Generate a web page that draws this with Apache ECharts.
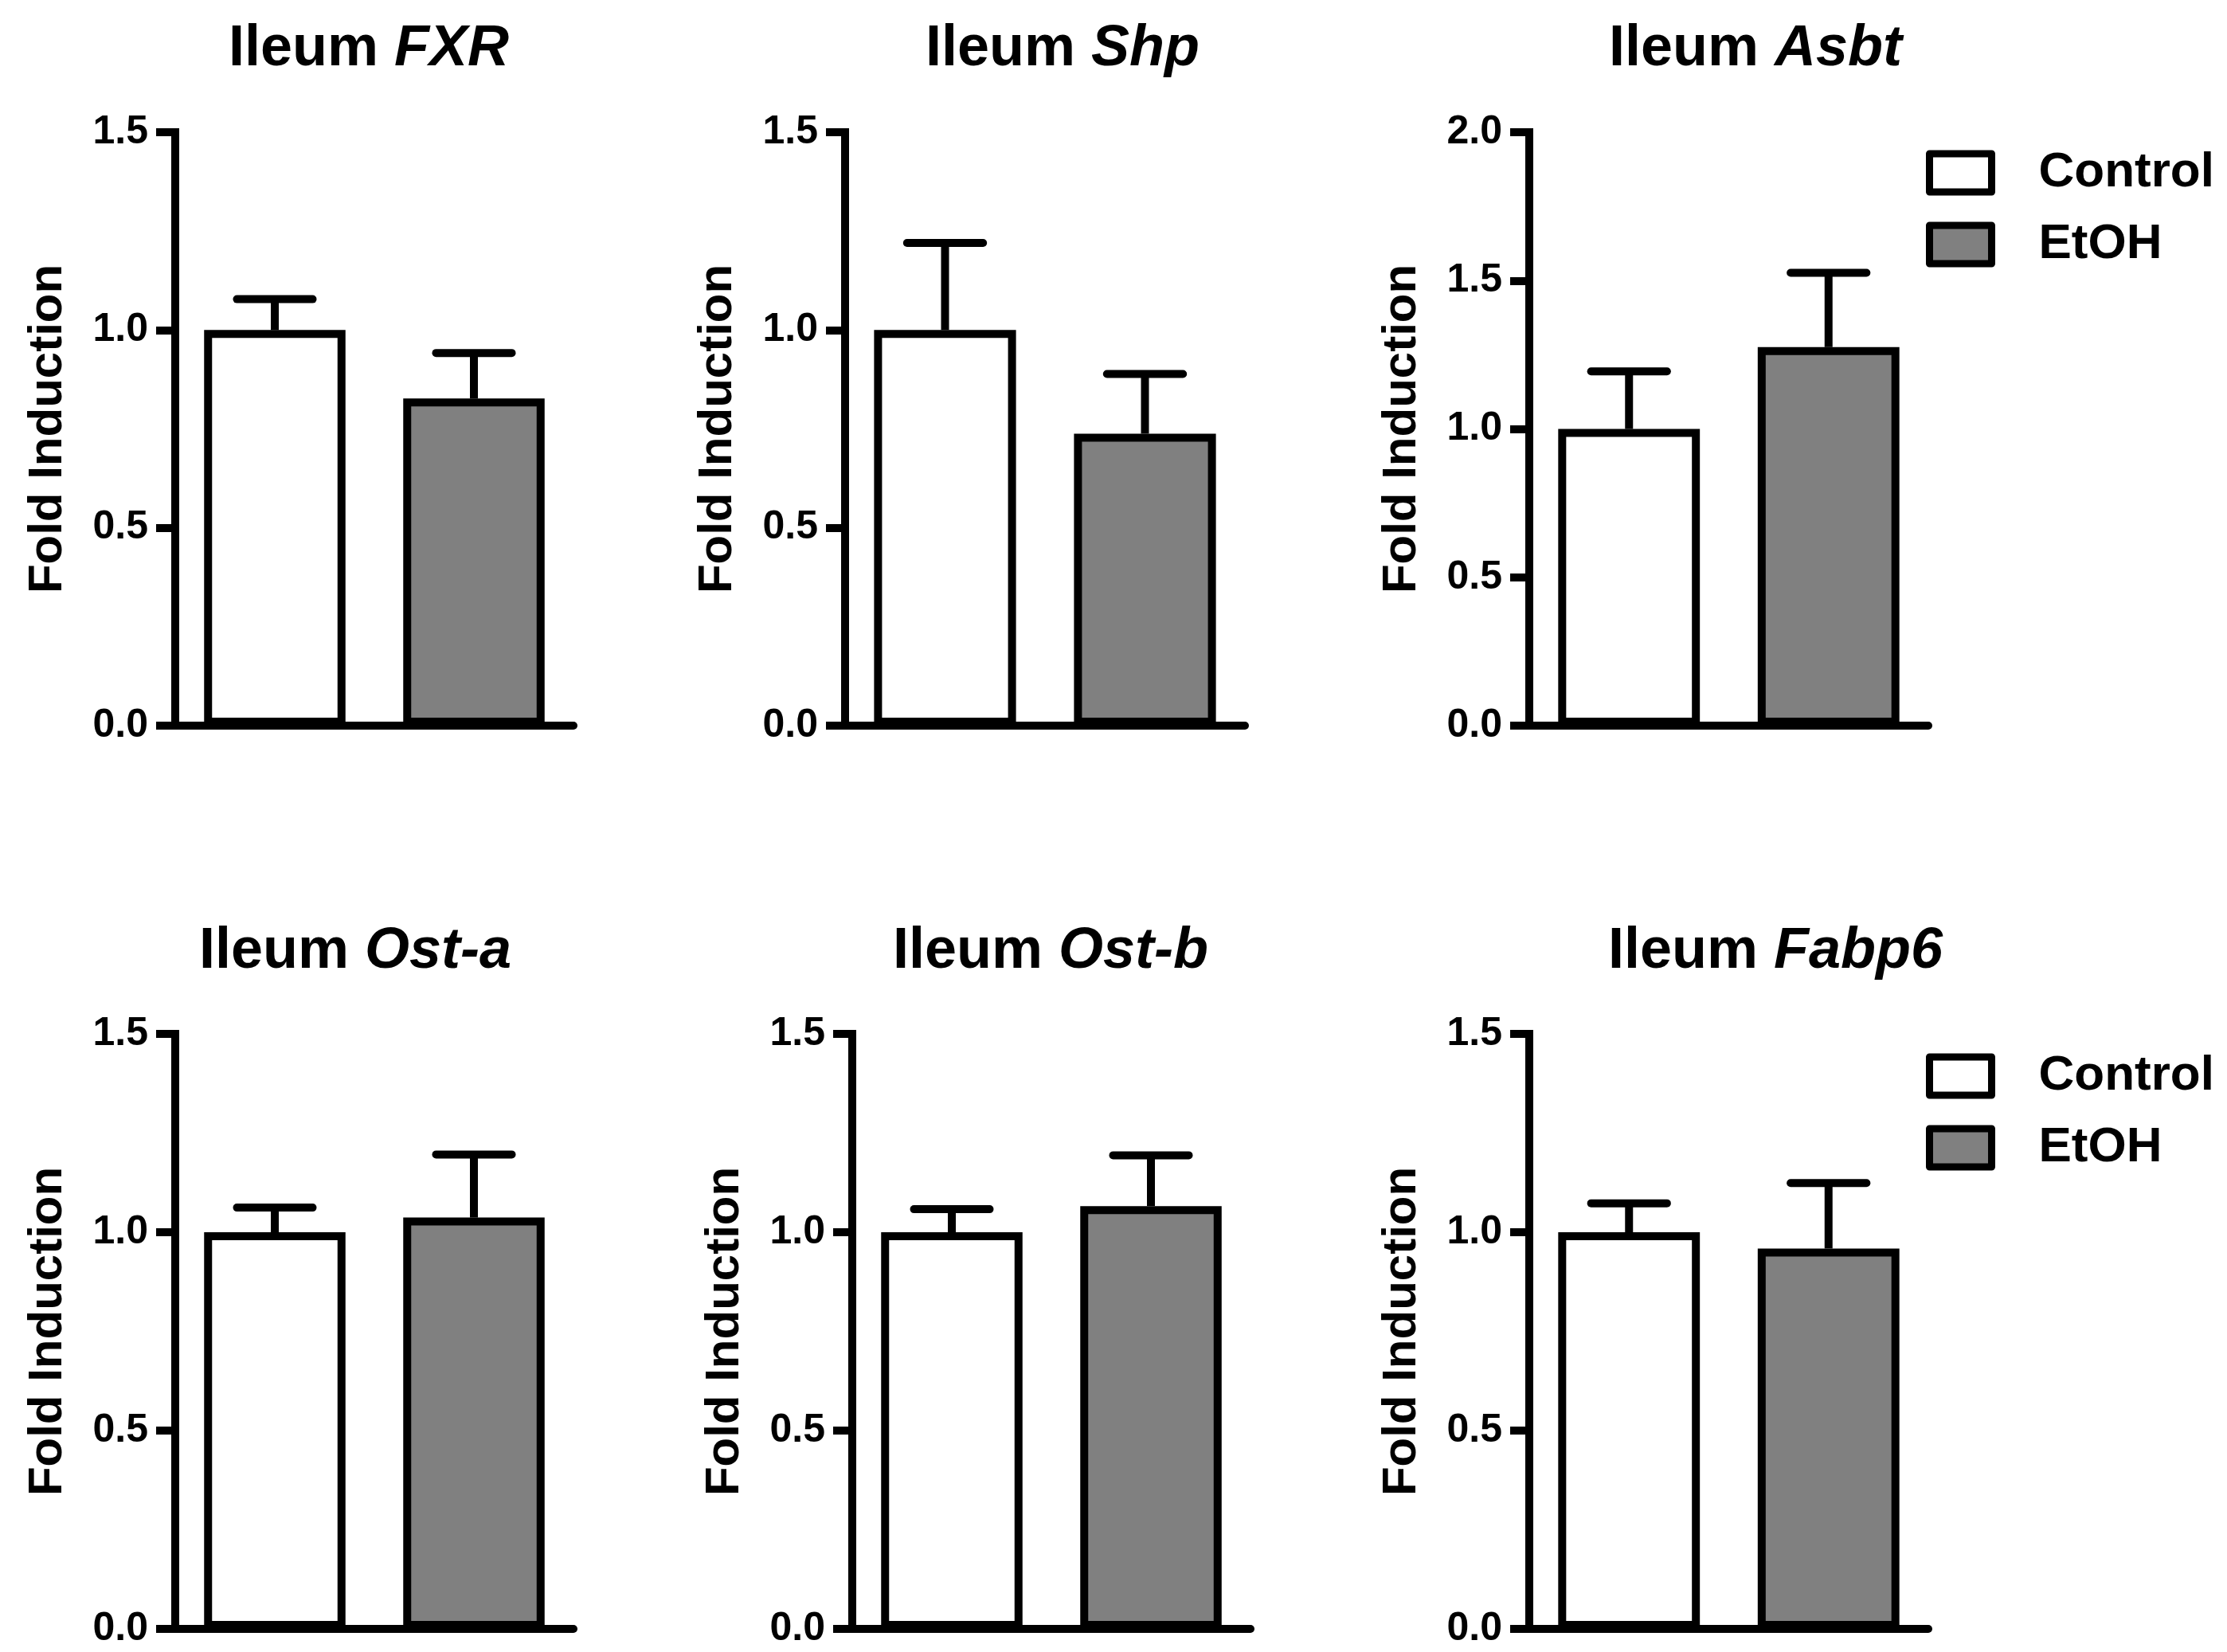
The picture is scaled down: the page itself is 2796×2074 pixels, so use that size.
<!DOCTYPE html>
<html>
<head>
<meta charset="utf-8">
<script src="https://cdn.jsdelivr.net/npm/echarts@6/dist/echarts.min.js"></script>
<style>
html,body{margin:0;padding:0;background:#fff;}
#chart{width:2796px;height:2074px;}
</style>
</head>
<body>
<div id="chart"></div>
<script>
// ---- data ----
const genes = ['FXR', 'Shp', 'Asbt', 'Ost-a', 'Ost-b', 'Fabp6'];
const groups = ['Control', 'EtOH'];
const controlMean = [1.0, 1.0, 1.0, 1.0, 1.0, 1.0];
const controlUpper = [1.078, 1.22, 1.194, 1.062, 1.058, 1.073];
const etohMean = [0.827, 0.738, 1.276, 1.037, 1.066, 0.959];
const etohUpper = [0.942, 0.889, 1.526, 1.196, 1.194, 1.124];
const yMax = [1.5, 1.5, 2.0, 1.5, 1.5, 1.5];
const yInterval = 0.5;
const yAxisName = 'Fold Induction';
const titlePrefix = 'Ileum ';

// ---- layout ----
const FONT = '"Liberation Sans", Arial, sans-serif';
const gridPos = [
  {left: 220, top: 166, width: 500, height: 745},
  {left: 1061, top: 166, width: 502, height: 745},
  {left: 1920, top: 166, width: 501, height: 745},
  {left: 220, top: 1298, width: 500, height: 747},
  {left: 1070, top: 1298, width: 500, height: 747},
  {left: 1920, top: 1298, width: 501, height: 747}
];
const titlePos = [
  {x: 463, y: 62}, {x: 1334, y: 62}, {x: 2204, y: 62},
  {x: 446, y: 1195}, {x: 1319, y: 1195}, {x: 2229, y: 1195}
];

const LW = 10;
const grids = [], xAxes = [], yAxes = [], series = [], titles = [];

genes.forEach((g, i) => {
  grids.push(Object.assign({containLabel: false}, gridPos[i]));
  xAxes.push({
    type: 'category', gridIndex: i, data: groups, boundaryGap: true,
    axisLine: {show: true, lineStyle: {color: '#000', width: LW}},
    axisTick: {show: false}, axisLabel: {show: false}, splitLine: {show: false}
  });
  yAxes.push({
    type: 'value', gridIndex: i, min: 0, max: yMax[i], interval: yInterval,
    name: yAxisName, nameLocation: 'middle', nameGap: 130,
    nameTextStyle: {fontSize: 60, fontWeight: 'bold', color: '#000', fontFamily: FONT},
    axisLine: {show: true, lineStyle: {color: '#000', width: LW, cap: 'square'}},
    axisTick: {show: true, length: 24, lineStyle: {color: '#000', width: LW}},
    axisLabel: {fontSize: 50, fontWeight: 'bold', color: '#000', fontFamily: FONT, margin: 34,
      formatter: v => v.toFixed(1)},
    splitLine: {show: false}
  });
  titles.push({
    text: '{a|' + titlePrefix + '}{b|' + g + '}',
    left: titlePos[i].x, top: titlePos[i].y, textAlign: 'center', textVerticalAlign: 'middle',
    padding: 0,
    textStyle: {
      rich: {
        a: {fontSize: 72, fontWeight: 'bold', color: '#000', fontFamily: FONT},
        b: {fontSize: 72, fontWeight: 'bold', fontStyle: 'italic', color: '#000', fontFamily: FONT}
      }
    }
  });
  const common = {
    type: 'bar', xAxisIndex: i, yAxisIndex: i, barGap: '-100%', barCategoryGap: '29%',
    silent: true, animation: false
  };
  series.push(Object.assign({}, common, {
    name: 'Control', data: [controlMean[i], null],
    itemStyle: {color: '#ffffff', borderColor: '#000', borderWidth: LW}
  }));
  series.push(Object.assign({}, common, {
    name: 'EtOH', data: [null, etohMean[i]],
    itemStyle: {color: '#808080', borderColor: '#000', borderWidth: LW}
  }));
  series.push({
    type: 'custom', xAxisIndex: i, yAxisIndex: i, silent: true, animation: false, z: 5,
    data: [[0, controlMean[i], controlUpper[i]], [1, etohMean[i], etohUpper[i]]],
    renderItem: (params, api) => {
      const c = api.value(0), v = api.value(1), up = api.value(2);
      const p0 = api.coord([c, v]);
      const p1 = api.coord([c, up]);
      const half = api.size([1, 0])[0] * 0.19;
      return {
        type: 'group', children: [
          {type: 'line', shape: {x1: p0[0], y1: p0[1], x2: p1[0], y2: p1[1]},
           style: {stroke: '#000', lineWidth: LW}},
          {type: 'line', shape: {x1: p1[0] - half, y1: p1[1], x2: p1[0] + half, y2: p1[1]},
           style: {stroke: '#000', lineWidth: LW, lineCap: 'round'}}
        ]
      };
    }
  });
});

const legendBase = {
  data: groups, orient: 'vertical', itemWidth: 78, itemHeight: 48, itemGap: 28,
  icon: 'rect', selectedMode: false, padding: 0,
  itemStyle: {borderWidth: 9, borderColor: '#000', borderJoin: 'round'},
  textStyle: {fontSize: 62, fontWeight: 'bold', color: '#000', fontFamily: FONT, padding: [0, 0, 0, 54]}
};

const option = {
  backgroundColor: '#ffffff',
  animation: false,
  title: titles,
  legend: [
    Object.assign({}, legendBase, {left: 2418, top: 186}),
    Object.assign({}, legendBase, {left: 2418, top: 1320})
  ],
  grid: grids,
  xAxis: xAxes,
  yAxis: yAxes,
  series: series
};

const chart = echarts.init(document.getElementById('chart'), null, {renderer: 'canvas'});
chart.setOption(option);
</script>
</body>
</html>
